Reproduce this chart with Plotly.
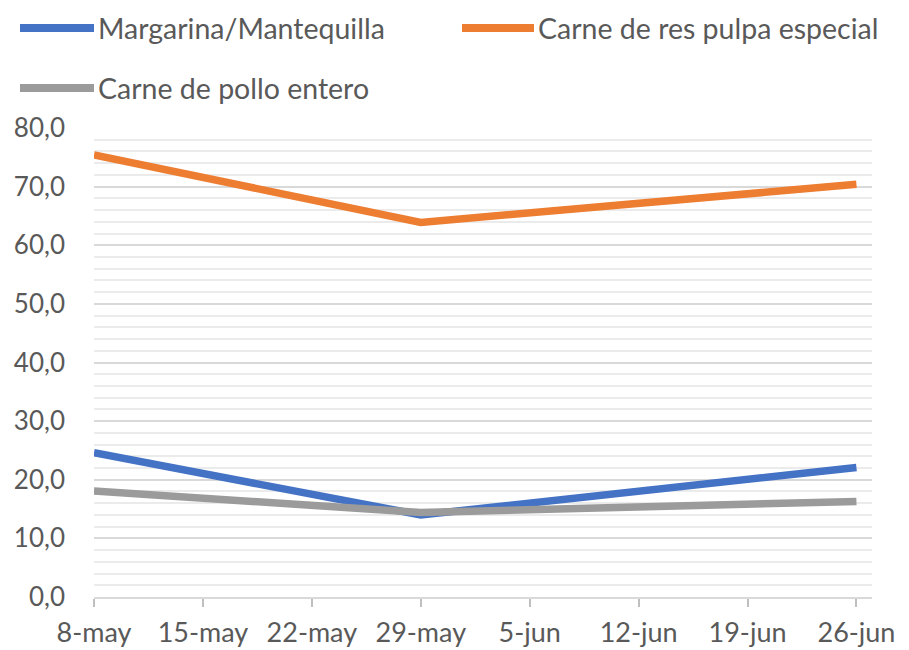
import plotly.graph_objects as go

dates = ["2020-05-08", "2020-05-29", "2020-06-26"]
margarina = [24.6, 14.0, 22.1]
carne_res = [75.4, 63.9, 70.4]
carne_pollo = [18.1, 14.4, 16.3]

tick_dates = ["2020-05-08", "2020-05-15", "2020-05-22", "2020-05-29",
              "2020-06-05", "2020-06-12", "2020-06-19", "2020-06-26"]
tick_labels = ["8-may", "15-may", "22-may", "29-may", "5-jun", "12-jun", "19-jun", "26-jun"]
y_ticks = [0, 10, 20, 30, 40, 50, 60, 70, 80]
y_labels = ["0,0", "10,0", "20,0", "30,0", "40,0", "50,0", "60,0", "70,0", "80,0"]

series = [
    ("Margarina/Mantequilla", margarina, "#4472C4"),
    ("Carne de res pulpa especial", carne_res, "#ED7D31"),
    ("Carne de pollo entero", carne_pollo, "#9B9B9B"),
]

FONT = "Lato"
TXT = "#595959"

# page body has an 8px default margin; figure is sized to fit the window
OFF = 8
FW, FH = 909 - OFF, 650 - OFF

fig = go.Figure()
for name, vals, col in series:
    fig.add_trace(go.Scatter(x=dates, y=vals, name=name, mode="lines",
                             line=dict(color=col, width=7.5), showlegend=False))

# plot area in window pixels
L, R, T, B = 94, 872, 128, 597
W, H = R - L, B - T

def px(x):
    return (x - L) / W

def py(y):
    return (B - y) / H

legend_items = [
    (series[0], 20, 94, 28),
    (series[1], 462, 534, 28),
    (series[2], 20, 94, 88),
]
for (name, _, col), x0, x1, yy in legend_items:
    fig.add_shape(type="line", xref="paper", yref="paper",
                  x0=px(x0), x1=px(x1), y0=py(yy), y1=py(yy),
                  line=dict(color=col, width=8))
    fig.add_annotation(xref="paper", yref="paper", x=px(x1 + 2), y=py(yy),
                       text=name, showarrow=False, xanchor="left", yanchor="middle",
                       font=dict(family=FONT, size=28.5, color=TXT))

fig.update_layout(
    width=FW, height=FH,
    margin=dict(l=L - OFF, r=909 - R, t=T - OFF, b=650 - B),
    paper_bgcolor="white", plot_bgcolor="white",
    showlegend=False,
    font=dict(family=FONT, size=26, color=TXT),
)
fig.update_xaxes(
    type="date", range=["2020-05-08", "2020-06-27"],
    tickvals=tick_dates, ticktext=tick_labels, automargin=False,
    showgrid=False, showline=True, linecolor="#d9d9d9", linewidth=1.5,
    ticks="outside", ticklen=8, tickcolor="#bfbfbf", tickwidth=1.5,
    ticklabelstandoff=3,
    tickfont=dict(family=FONT, size=27, color=TXT),
)
fig.update_yaxes(
    range=[0, 80], tickvals=y_ticks, ticktext=y_labels, automargin=False,
    showgrid=True, gridcolor="#d9d9d9", gridwidth=1.5,
    zeroline=False, showline=False,
    ticks="", ticklabelstandoff=28,
    minor=dict(dtick=2, showgrid=True, gridcolor="#ebebeb", gridwidth=1.5),
    tickfont=dict(family=FONT, size=26, color=TXT),
)

fig.write_html("out.html")
